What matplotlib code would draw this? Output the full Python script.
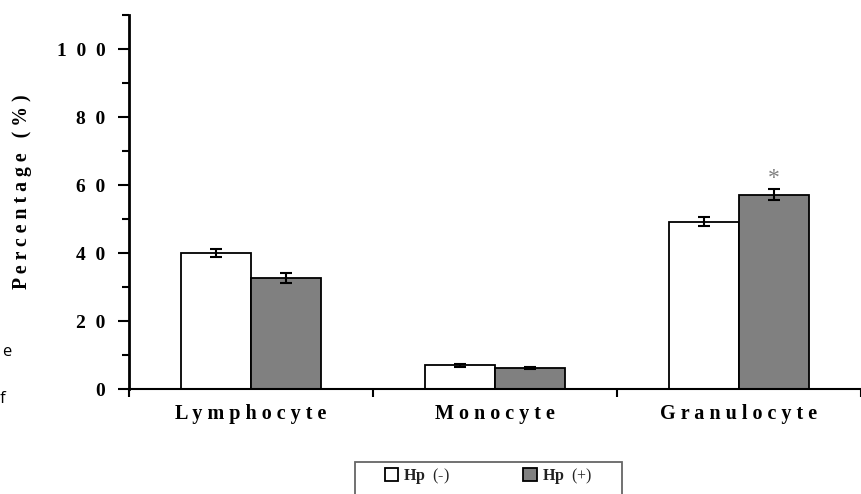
import matplotlib
matplotlib.use("Agg")
import matplotlib.pyplot as plt
from matplotlib.patches import Rectangle
from matplotlib.ticker import FixedLocator, MultipleLocator, FuncFormatter
import numpy as np

plt.rcParams["font.family"] = ["Liberation Serif", "DejaVu Serif"]
plt.rcParams["mathtext.fontset"] = "custom"
plt.rcParams["mathtext.bf"] = "Liberation Serif:bold"
plt.rcParams["mathtext.rm"] = "Liberation Serif"

# leukocyte differential, mean +/- SEM
cell_types = ["Lymphocyte", "Monocyte", "Granulocyte"]
hp_neg = [40.0, 7.0, 49.2]
hp_neg_err = [1.3, 0.5, 1.4]
hp_pos = [32.6, 6.2, 57.1]
hp_pos_err = [1.5, 0.4, 1.6]
significant = [False, False, True]
y_ticks = [0, 20, 40, 60, 80, 100]

SEP = "\u2002"  # wide tracking between characters


def spaced(s, sep=" "):
    return sep.join(s)


fig = plt.figure(figsize=(8.62, 4.94), dpi=100)
ax = fig.add_axes([129 / 862, 105 / 494, 732 / 862, 374 / 494])

x = np.arange(len(cell_types))
w = 0.287
ax.bar(x - w / 2, hp_neg, w, color="white", edgecolor="black", linewidth=1.3,
       label=r"$\mathbf{Hp}$  (-)", zorder=2)
ax.bar(x + w / 2, hp_pos, w, color="#808080", edgecolor="black", linewidth=1.3,
       label=r"$\mathbf{Hp}$  (+)", zorder=2)
ax.errorbar(x - w / 2, hp_neg, yerr=hp_neg_err, fmt="none", ecolor="black",
            elinewidth=1.5, capsize=4.5, capthick=1.5, zorder=3)
ax.errorbar(x + w / 2, hp_pos, yerr=hp_pos_err, fmt="none", ecolor="black",
            elinewidth=1.5, capsize=4.5, capthick=1.5, zorder=3)

for xi, top, err, sig in zip(x, hp_pos, hp_pos_err, significant):
    if sig:
        ax.text(xi + w / 2, top + err + 3.2, "*", ha="center", va="center",
                fontsize=17, color="#808080")

ax.set_xlim(-0.5, 2.5)
ax.set_ylim(0, 110)
ax.spines["top"].set_visible(False)
ax.spines["right"].set_visible(False)
ax.spines["left"].set_linewidth(2.0)
ax.spines["bottom"].set_linewidth(1.5)

ax.yaxis.set_major_locator(FixedLocator(y_ticks))
ax.yaxis.set_minor_locator(MultipleLocator(10))
ax.yaxis.set_major_formatter(FuncFormatter(lambda v, p: spaced(str(int(v)), SEP)))
ax.tick_params(axis="y", which="major", direction="out", length=8, width=1.5,
               pad=9, labelsize=14)
ax.tick_params(axis="y", which="minor", direction="out", length=5, width=1.5)
for lab in ax.get_yticklabels():
    lab.set_fontweight("bold")

ax.set_xticks(x)
ax.set_xticklabels([spaced(c) for c in cell_types], fontsize=14.5, fontweight="bold")
ax.xaxis.set_minor_locator(FixedLocator([-0.5, 0.5, 1.5, 2.5]))
ax.tick_params(axis="x", which="major", length=0, pad=11)
ax.tick_params(axis="x", which="minor", direction="out", length=6, width=1.5)

ax.set_ylabel(spaced("Percentage (%)"), fontsize=14.2, fontweight="bold")
ax.yaxis.set_label_coords(-0.133, 0.527)

# legend: frameless entries centred inside a hand-placed box that runs off the bottom
box_l, box_r, box_top = 355 / 862, 622 / 862, 1 - 462 / 494
fig.add_artist(Rectangle((box_l, -0.05), box_r - box_l, box_top + 0.05,
                         transform=fig.transFigure, facecolor="white",
                         edgecolor="#666666", linewidth=1.3))
leg = fig.legend(loc="center", bbox_to_anchor=((box_l + box_r) / 2, 1 - 476 / 494),
                 ncol=2, fontsize=11.5, frameon=False,
                 handlelength=0.85, handleheight=0.85,
                 handletextpad=0.3, columnspacing=4.6, borderpad=0)
for t in leg.get_texts():
    t.set_color("#222222")

# stray text from the neighbouring page column
fig.text(0.003, 1 - 352 / 494, "e", fontsize=12, family="Open Sans", va="center")
fig.text(0.0, 1 - 399 / 494, "f", fontsize=12, family="Open Sans", va="center")

fig.savefig("out.png", dpi=100)
